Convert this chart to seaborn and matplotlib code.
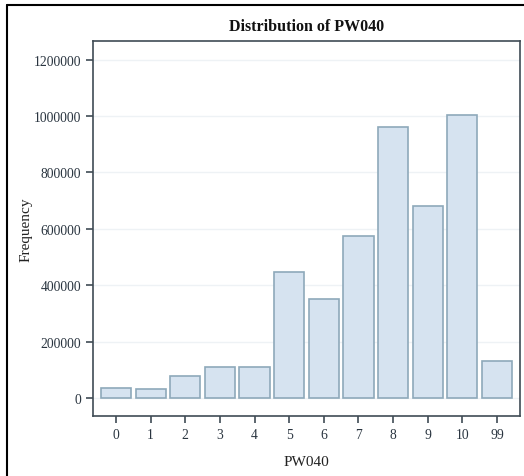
import matplotlib
matplotlib.use("Agg")
import matplotlib.pyplot as plt
import seaborn as sns
import pandas as pd
from matplotlib.lines import Line2D

categories = ["0", "1", "2", "3", "4", "5", "6", "7", "8", "9", "10", "99"]
frequency = [36000, 33500, 78500, 112500, 112500, 446500, 352000, 574000, 960000, 680000, 1004500, 134000]
y_ticks = [0, 200000, 400000, 600000, 800000, 1000000, 1200000]

df = pd.DataFrame({"PW040": categories, "Frequency": frequency})

sns.set_theme(style="white")
plt.rcParams["font.family"] = ["Liberation Serif", "DejaVu Serif"]

fig = plt.figure(figsize=(5.24, 4.77), dpi=100)
ax = fig.add_axes([93/524, 1 - 417/477, (520-93)/524, (417-42)/477])

sns.barplot(data=df, x="PW040", y="Frequency", order=categories, ax=ax,
            color="#d6e3f0", edgecolor="#8ea9ba", linewidth=1.2, width=0.87,
            saturation=1, zorder=3)

ax.set_xlim(-0.665, 11.665)
ax.set_ylim(-62000, 1265500)
ax.set_yticks(y_ticks)
ax.set_yticklabels([str(v) for v in y_ticks])
ax.yaxis.grid(True, color="#eef2f5", linewidth=1, zorder=0)
ax.set_axisbelow(True)

frame_col = "#3f4b55"
for s in ax.spines.values():
    s.set_color(frame_col)
    s.set_linewidth(1.2)
    s.set_visible(True)

ax.tick_params(axis="both", which="both", length=5, width=1.2, color=frame_col,
               labelsize=9.8, labelcolor="#2a3540", direction="out",
               bottom=True, left=True)

ax.set_xlabel("PW040", fontsize=11, color="#222222", labelpad=10)
ax.set_ylabel("Frequency", fontsize=11, color="#222222")
ax.yaxis.set_label_coords((33 - 93) / 427, 0.5)
ax.set_title("Distribution of PW040", fontsize=11.5, fontweight="bold", color="#111111", pad=8)

# outer page border (left and top)
fig.add_artist(Line2D([7/524, 7/524], [0, 1 - 6/477], transform=fig.transFigure, color="black", linewidth=1.5))
fig.add_artist(Line2D([7/524, 1], [1 - 6/477, 1 - 6/477], transform=fig.transFigure, color="black", linewidth=1.5))

fig.savefig("out.png", dpi=100)
